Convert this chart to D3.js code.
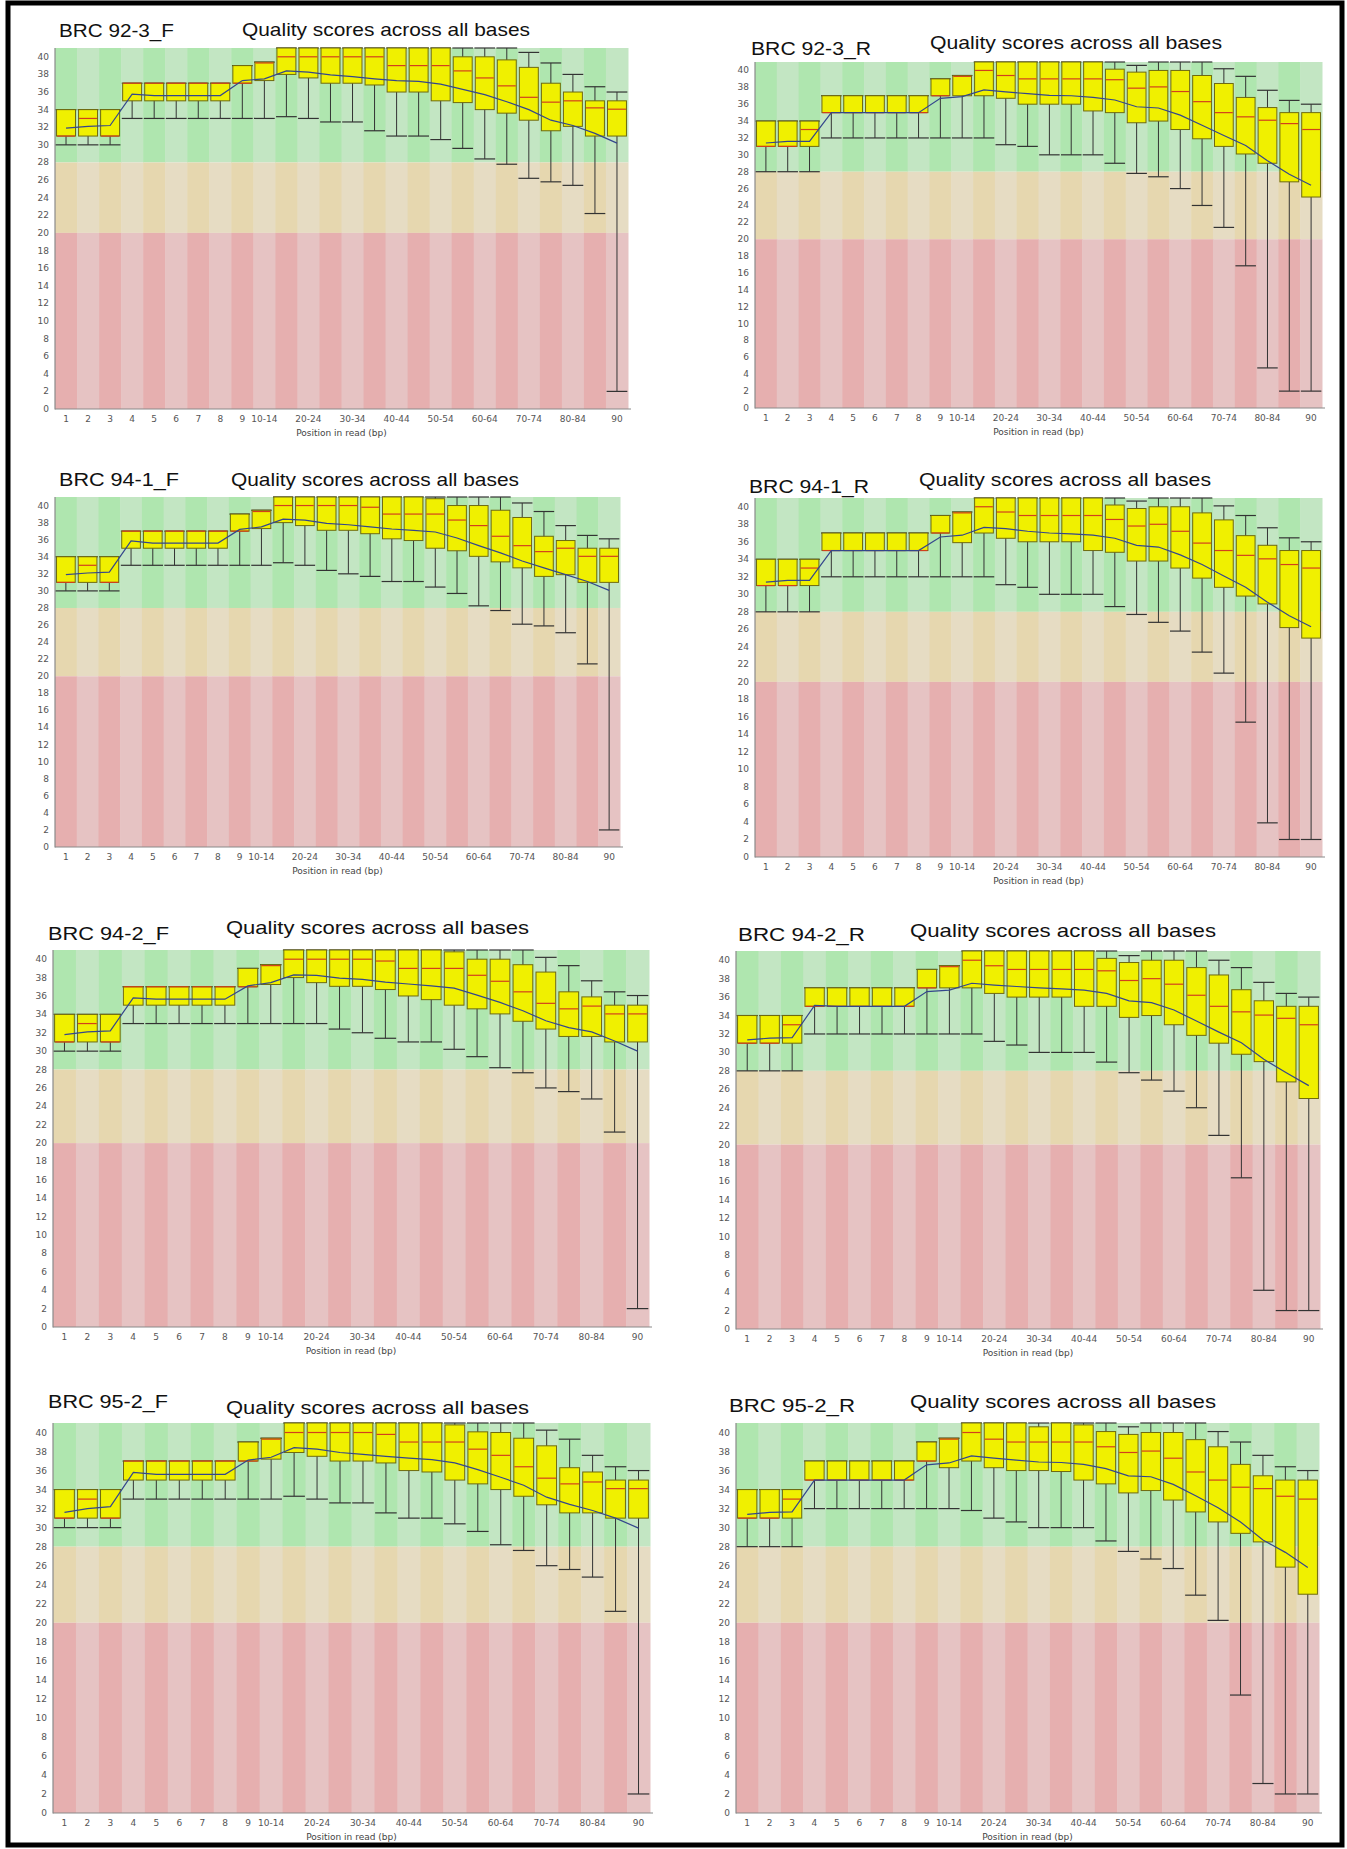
<!DOCTYPE html>
<html>
<head>
<meta charset="utf-8">
<title>Quality scores across all bases</title>
<script src="https://d3js.org/d3.v7.min.js"></script>
<style>
  body { margin: 0; background: #fff; }
  svg { display: block; }
  .title { font-family: "Liberation Sans", Arial, sans-serif; font-size: 19px; fill: #111; }
  .tick { font-family: "DejaVu Sans", sans-serif; font-size: 9px; fill: #555; }
  .xlab { font-family: "DejaVu Sans", sans-serif; font-size: 9px; fill: #444; }
</style>
</head>
<body>
<div id="chart"></div>
<script>
// positions in read (one box each)
var categories = ["1","2","3","4","5","6","7","8","9","10-14","15-19","20-24","25-29","30-34",
  "35-39","40-44","45-49","50-54","55-59","60-64","65-69","70-74","75-79","80-84","85-89","90"];
var xTickLabels = ["1","2","3","4","5","6","7","8","9","10-14","","20-24","","30-34",
  "","40-44","","50-54","","60-64","","70-74","","80-84","","90"];
var yTickValues = [0,2,4,6,8,10,12,14,16,18,20,22,24,26,28,30,32,34,36,38,40];

// each row: [10th pct, lower quartile, median, upper quartile, 90th pct]
var box_92_3_F = [[30,31,31,34,34],[30,31,33,34,34],[30,31,31,34,34],[33,35,37,37,37],[33,35,37,37,37],
  [33,35,37,37,37],[33,35,37,37,37],[33,35,37,37,37],[33,37,37,39,39],[33,37.3,39.3,39.4,39.4],
  [33.2,38,40,41,41],[33,37.6,40,41,41],[32.6,37,40,41,41],[32.6,37,40,41,41],[31.6,36.8,40,41,41],
  [31,36,39,41,41],[31,36,39,41,41],[30.6,35,39,41,41],[29.6,34.8,38.4,40,41],[28.4,34,37.6,40,41],
  [27.8,33.6,36.7,39.65,41],[26.2,32.8,35.4,38.8,40.5],[25.8,31.6,34.85,37,39.3],[25.4,32.1,35,36,38],
  [22.2,31,34.2,35,36.6],[2,31,34.05,35,36]];
var mean_92_3_F = [31.9,32.1,32.2,35.75,35.6,35.6,35.6,35.6,37.3,37.5,38.4,38.25,37.95,37.75,37.5,
  37.3,37.2,36.9,36.3,35.7,34.9,34.0,32.8,32.2,31.3,30.2];

var box_92_3_R = [[28,31,31,34,34],[28,31,31,34,34],[28,31,33,34,34],[32,35,35,37,37],[32,35,35,37,37],
  [32,35,35,37,37],[32,35,35,37,37],[32,35,35,37,37],[32,37,37,39,39],[32,37,39.3,39.4,39.4],
  [32,37,40,41,41],[31.2,36.7,39.4,41,41],[31,36,39,41,41],[30,36,39,41,41],[30,36,39,41,41],
  [30,35.2,39,41,41],[29,35,38.9,40.15,41],[27.8,33.8,37.9,39.8,40.6],[27.4,34,38.05,40,41],
  [26,33,37.5,40,41],[24,31.9,36.3,39.4,41],[21.4,31,35,38.45,40.2],[16.85,30.1,34.5,36.8,39.3],
  [4.75,29,34.1,35.6,37.65],[2,26.8,33.7,35,36.45],[2,25,33,35,36]];
var mean_92_3_R = [31.4,31.6,31.6,35.0,35.0,35.0,35.0,35.0,36.7,36.9,37.7,37.45,37.25,37.05,37.0,
  36.8,36.5,35.7,35.55,34.7,33.5,32.3,31.1,29.3,27.7,26.4];

var box_94_1_F = [[30,31,31,34,34],[30,31,33,34,34],[30,31,31,34,34],[33,35,37,37,37],[33,35,37,37,37],
  [33,35,37,37,37],[33,35,37,37,37],[33,35,37,37,37],[33,37,37,39,39],[33,37.3,39.3,39.45,39.45],
  [33.3,38,40,41,41],[33,37.65,40,41,41],[32.4,37.1,40,41,41],[32,37.1,40,41,41],[31.7,36.7,39.8,41,41],
  [31.1,36.1,39,41,41],[31.1,35.9,39,41,41],[30.45,35,39,40.8,41],[29.7,34.7,38.3,40,41],
  [28.25,34.05,37.65,40,41],[27.7,33.4,36.4,39.45,41],[26.1,32.7,35.3,38.6,40.3],[25.9,31.7,34.6,36.4,39.3],
  [25.1,31.9,35,35.9,37.65],[21.45,31,34.05,35,36.5],[2,31,34.05,35,36.1]];
var mean_94_1_F = [31.9,32.1,32.2,35.85,35.6,35.6,35.6,35.6,37.2,37.5,38.4,38.3,37.9,37.75,37.5,
  37.25,37.1,36.9,36.2,35.3,34.45,33.5,32.7,31.9,31.1,30.06];

var box_94_1_R = [[28,31,31,34,34],[28,31,31,34,34],[28,31,33,34,34],[32,35,35,37,37],[32,35,35,37,37],
  [32,35,35,37,37],[32,35,35,37,37],[32,35,35,37,37],[32,37,37,39,39],[32,35.9,39.3,39.4,39.4],
  [32,37,40,41,41],[31.1,36.4,39.4,41,41],[30.8,36,39,41,41],[30,36,39,41,41],[30,36,39,41,41],
  [30,35,39,41,41],[28.6,34.8,38.55,40.2,41],[27.7,33.8,37.8,39.8,40.65],[26.8,33.8,38,40,41],
  [25.8,33,37.2,40,41],[23.4,31.85,35.85,39.3,41],[21,30.8,35,38.5,40.1],[15.4,29.8,34.45,36.7,39],
  [3.9,28.9,34.05,35.6,37.6],[2,26.2,33.4,35,36.45],[2,25,33,35,36]];
var mean_94_1_R = [31.4,31.6,31.6,35.0,35.0,35.0,35.0,35.0,36.55,36.75,37.65,37.5,37.2,37.0,36.9,
  36.75,36.4,35.6,35.4,34.5,33.4,32.1,30.8,29.1,27.55,26.3];

var box_94_2_F = [[30,31,31,34,34],[30,31,33,34,34],[30,31,31,34,34],[33,35,37,37,37],[33,35,37,37,37],
  [33,35,37,37,37],[33,35,37,37,37],[33,35,37,37,37],[33,37,37,39,39],[33,37.25,39.3,39.4,39.4],
  [33,38,40,41,41],[33,37.45,40,41,41],[32.4,37.05,40,41,41],[32,37.05,40,41,41],[31.4,36.7,39.8,41,41],
  [31,36,39,41,41],[31,35.6,39,41,41],[30.2,35,39,40.8,41],[29.4,34.6,38.25,40,41],
  [28.2,34.05,37.6,40,41],[27.65,33.25,36.45,39.4,41],[26,32.4,35.2,38.6,40.2],[25.6,31.6,34.6,36.45,39.3],
  [24.8,31.6,34.9,35.9,37.65],[21.2,31,34.05,35,36.45],[2,31,34.05,35,36.05]];
var mean_94_2_F = [31.8,32.1,32.2,35.8,35.65,35.65,35.65,35.65,37.1,37.45,38.3,38.25,37.95,37.8,37.5,
  37.3,37.1,36.85,36.1,35.3,34.4,33.3,32.55,32.1,31.1,30.0];

var box_94_2_R = [[28,31,31,34,34],[28,31,31,34,34],[28,31,33,34,34],[32,35,35,37,37],[32,35,35,37,37],
  [32,35,35,37,37],[32,35,35,37,37],[32,35,35,37,37],[32,37,37,39,39],[32,37,39.3,39.4,39.4],
  [32,37,40,41,41],[31.2,36.4,39.4,41,41],[30.8,36,39,41,41],[30,36,39,41,41],[30,36,39,41,41],
  [30,35,39,41,41],[28.95,35,38.85,40.2,41],[27.8,33.8,37.8,39.75,40.5],[27,34,38,40,41],
  [25.8,33,37.4,40,41],[24,31.85,36.2,39.2,41],[21,31,35,38.4,40],[16.4,29.8,34.4,36.8,39.2],
  [4.2,29,34.05,35.6,37.6],[2,26.8,33.7,35,36.4],[2,25,33,35,36]];
var mean_94_2_R = [31.35,31.55,31.6,35.1,35.0,35.0,35.0,35.0,36.6,36.75,37.5,37.3,37.15,37.0,36.9,
  36.75,36.4,35.6,35.4,34.6,33.4,32.2,31.05,29.25,27.8,26.4];

var box_95_2_F = [[30,31,31,34,34],[30,31,33,34,34],[30,31,31,34,34],[33,35,37,37,37],[33,35,37,37,37],
  [33,35,37,37,37],[33,35,37,37,37],[33,35,37,37,37],[33,37,37,39,39],[33,37.2,39.3,39.4,39.4],
  [33.3,37.9,40,41,41],[33,37.5,40,41,41],[32.6,37,40,41,41],[32.6,37,40,41,41],[31.55,36.8,39.8,41,41],
  [31,36,39,41,41],[31,35.85,39,41,41],[30.4,35,39,40.8,41],[29.6,34.6,38.25,40.07,41],
  [28.2,34,37.6,40,41],[27.6,33.3,36.4,39.4,41],[26,32.4,35.2,38.6,40.25],[25.6,31.55,34.6,36.3,39.3],
  [24.8,31.55,34.8,35.85,37.6],[21.2,31,34.1,35,36.4],[2,31,34.1,35,36]];
var mean_95_2_F = [31.6,32.0,32.2,35.8,35.6,35.6,35.6,35.6,37.1,37.4,38.4,38.25,37.9,37.7,37.5,
  37.3,37.15,36.8,36.1,35.3,34.45,33.2,32.45,31.8,31.0,29.95];

var box_95_2_R = [[28,31,31,34,34],[28,31,31,34,34],[28,31,33,34,34],[32,35,35,37,37],[32,35,35,37,37],
  [32,35,35,37,37],[32,35,35,37,37],[32,35,35,37,37],[32,37,37,39,39],[32,36.3,39.3,39.4,39.4],
  [31.8,37,40,41,41],[31,36.3,39.3,41,41],[30.6,36,39,41,41],[30,36,39,40.6,41],[30,35.9,39,41,41],
  [30,35,39,40.8,41],[28.6,34.6,38.5,40.1,41],[27.5,33.65,37.9,39.8,40.6],[26.7,33.9,38.05,40,41],
  [25.7,32.9,37.3,40,41],[22.9,31.65,35.85,39.25,41],[20.25,30.6,35,38.5,40.1],[12.4,29.4,34.25,36.65,39],
  [3.1,28.5,34.1,35.45,37.6],[2,25.85,33.3,35,36.4],[2,23,33,35,36]];
var mean_95_2_R = [31.4,31.6,31.65,35.0,35.0,35.0,35.0,35.0,36.6,36.8,37.55,37.3,37.1,36.9,36.85,
  36.65,36.2,35.45,35.35,34.55,33.35,32.1,30.6,28.7,27.4,25.8];

var sampleNames = ["BRC 92-3_F","BRC 92-3_R","BRC 94-1_F","BRC 94-1_R",
  "BRC 94-2_F","BRC 94-2_R","BRC 95-2_F","BRC 95-2_R"];
var boxData = [box_92_3_F, box_92_3_R, box_94_1_F, box_94_1_R, box_94_2_F, box_94_2_R, box_95_2_F, box_95_2_R];
var meanData = [mean_92_3_F, mean_92_3_R, mean_94_1_F, mean_94_1_R, mean_94_2_F, mean_94_2_R, mean_95_2_F, mean_95_2_R];

// where each pasted plot sits on the page
var layout = [
  {x0: 55,  x1: 628,  top: 48,   bottom: 409,  nx: 59,  ny: 37,   nw: 115, qx: 242, qy: 36,   qw: 288},
  {x0: 755, x1: 1322, top: 62,   bottom: 408,  nx: 751, ny: 55,   nw: 120, qx: 930, qy: 49,   qw: 292},
  {x0: 55,  x1: 620,  top: 497,  bottom: 847,  nx: 59,  ny: 486,  nw: 120, qx: 231, qy: 486,  qw: 288},
  {x0: 755, x1: 1322, top: 498,  bottom: 857,  nx: 749, ny: 493,  nw: 120, qx: 919, qy: 486,  qw: 292},
  {x0: 53,  x1: 649,  top: 950,  bottom: 1327, nx: 48,  ny: 940,  nw: 121, qx: 226, qy: 934,  qw: 303},
  {x0: 736, x1: 1320, top: 951,  bottom: 1329, nx: 738, ny: 941,  nw: 127, qx: 910, qy: 937,  qw: 306},
  {x0: 53,  x1: 650,  top: 1423, bottom: 1813, nx: 48,  ny: 1408, nw: 120, qx: 226, qy: 1414, qw: 303},
  {x0: 736, x1: 1319, top: 1423, bottom: 1813, nx: 729, ny: 1412, nw: 126, qx: 910, qy: 1408, qw: 306}
];

var W = 1347, H = 1849;
var svg = d3.select("#chart").append("svg")
  .attr("width", W).attr("height", H);

svg.append("rect").attr("width", W).attr("height", H).attr("fill", "#fff");

// FastQC background bands: [from, to, dark, light]
var bands = [[28, 41, "#afe6af", "#c3e6c3"], [20, 28, "#e6d7af", "#e6dcc3"], [0, 20, "#e6afaf", "#e6c3c3"]];

function drawPanel(i) {
  var L = layout[i], data = boxData[i], means = meanData[i];
  var g = svg.append("g");

  var x = d3.scaleBand().domain(categories).range([L.x0, L.x1]);
  var y = d3.scaleLinear().domain([0, 41]).range([L.bottom, L.top]);
  var bw = x.bandwidth();

  // striped background
  categories.forEach(function(c, k) {
    bands.forEach(function(b) {
      g.append("rect")
        .attr("x", x(c)).attr("width", bw + 0.5)
        .attr("y", y(b[1])).attr("height", y(b[0]) - y(b[1]))
        .attr("fill", k % 2 == 0 ? b[2] : b[3]);
    });
  });

  // axes
  g.append("line").attr("x1", L.x0).attr("x2", L.x0).attr("y1", L.top).attr("y2", L.bottom + 0.5)
    .attr("stroke", "#8a8a8a").attr("stroke-width", 1.2);
  g.append("line").attr("x1", L.x0).attr("x2", L.x1 + 3).attr("y1", L.bottom).attr("y2", L.bottom)
    .attr("stroke", "#8a8a8a").attr("stroke-width", 1.2);

  g.selectAll(".ytick").data(yTickValues).enter().append("text")
    .attr("class", "tick")
    .attr("x", L.x0 - 6).attr("y", function(d) { return y(d) + 3; })
    .attr("text-anchor", "end")
    .text(function(d) { return d; });

  g.selectAll(".xtick").data(categories).enter().append("text")
    .attr("class", "tick")
    .attr("x", function(d) { return x(d) + bw / 2; })
    .attr("y", L.bottom + 13)
    .attr("text-anchor", "middle")
    .text(function(d, k) { return xTickLabels[k]; });

  g.append("text").attr("class", "xlab")
    .attr("x", (L.x0 + L.x1) / 2).attr("y", L.bottom + 27)
    .attr("text-anchor", "middle")
    .text("Position in read (bp)");

  // titles
  g.append("text").attr("class", "title")
    .attr("x", L.nx).attr("y", L.ny)
    .attr("textLength", L.nw).attr("lengthAdjust", "spacingAndGlyphs")
    .text(sampleNames[i]);
  g.append("text").attr("class", "title")
    .attr("x", L.qx).attr("y", L.qy)
    .attr("textLength", L.qw).attr("lengthAdjust", "spacingAndGlyphs")
    .text("Quality scores across all bases");

  var boxW = bw * 0.86, capW = bw * 0.94;
  var boxes = g.selectAll(".box").data(data).enter().append("g");

  // whiskers
  boxes.append("line")
    .attr("x1", function(d, k) { return x(categories[k]) + bw / 2; })
    .attr("x2", function(d, k) { return x(categories[k]) + bw / 2; })
    .attr("y1", function(d) { return y(d[0]); })
    .attr("y2", function(d) { return y(d[4]); })
    .attr("stroke", "#333").attr("stroke-width", 1);
  [0, 4].forEach(function(j) {
    boxes.append("line")
      .attr("x1", function(d, k) { return x(categories[k]) + (bw - capW) / 2; })
      .attr("x2", function(d, k) { return x(categories[k]) + (bw + capW) / 2; })
      .attr("y1", function(d) { return y(d[j]); })
      .attr("y2", function(d) { return y(d[j]); })
      .attr("stroke", "#333").attr("stroke-width", 1.2);
  });

  // boxes
  boxes.append("rect")
    .attr("x", function(d, k) { return x(categories[k]) + (bw - boxW) / 2; })
    .attr("width", boxW)
    .attr("y", function(d) { return y(d[3]); })
    .attr("height", function(d) { return y(d[1]) - y(d[3]); })
    .attr("fill", "#f0f000").attr("stroke", "#6e6a10").attr("stroke-width", 1);

  // medians
  boxes.append("line")
    .attr("x1", function(d, k) { return x(categories[k]) + (bw - boxW) / 2 + 0.5; })
    .attr("x2", function(d, k) { return x(categories[k]) + (bw + boxW) / 2 - 0.5; })
    .attr("y1", function(d) { return y(d[2]); })
    .attr("y2", function(d) { return y(d[2]); })
    .attr("stroke", "#d2401c").attr("stroke-width", 1.2);

  // mean line
  var line = d3.line()
    .x(function(d, k) { return x(categories[k]) + bw / 2; })
    .y(function(d) { return y(d); });
  g.append("path").datum(means)
    .attr("d", line)
    .attr("fill", "none").attr("stroke", "#34468c").attr("stroke-width", 1.2);
}

for (var i = 0; i < layout.length; i++) drawPanel(i);

// frame round the whole figure
svg.append("rect").attr("x", 8).attr("y", 3).attr("width", 1334).attr("height", 1842)
  .attr("fill", "none").attr("stroke", "#000").attr("stroke-width", 5);
</script>
</body>
</html>
